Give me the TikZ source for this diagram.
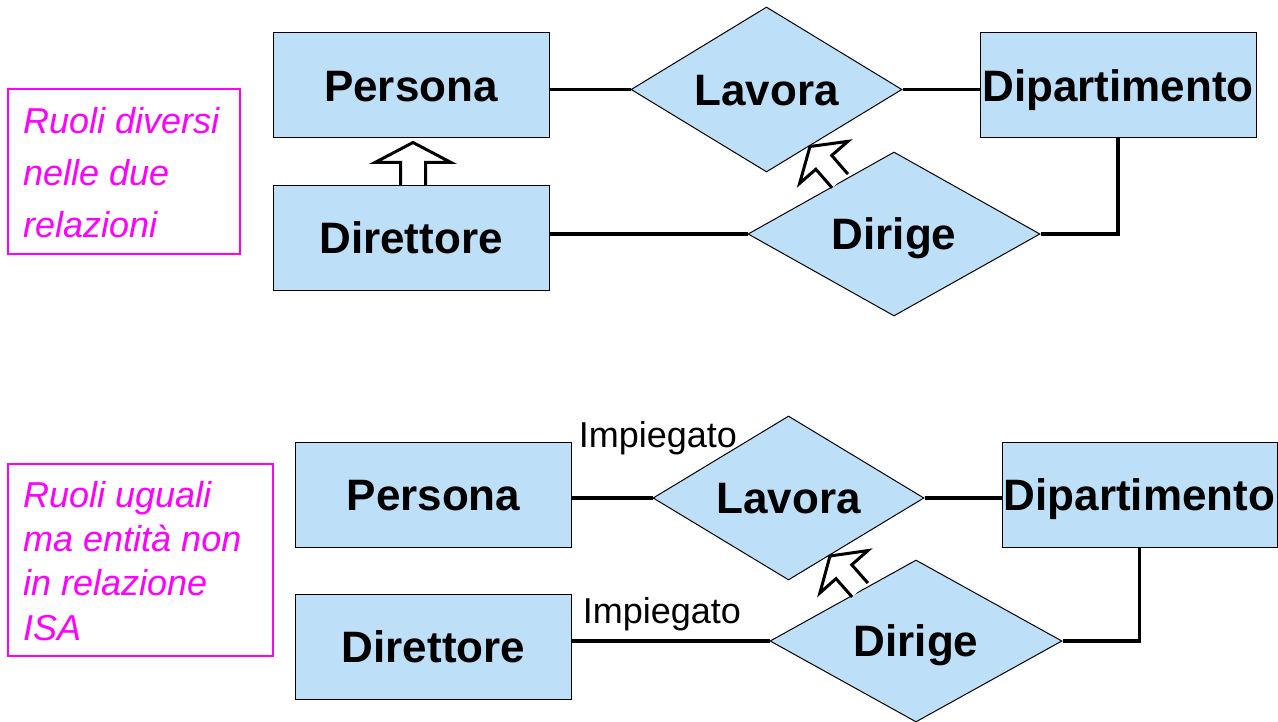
\documentclass[tikz,border=0pt]{standalone}
\usepackage{fontspec}
\setmainfont{Liberation Sans}
\usetikzlibrary{shapes.geometric,calc}
\definecolor{entfill}{RGB}{189,224,248}
\definecolor{notecol}{RGB}{255,0,255}
\begin{document}
\begin{tikzpicture}[x=1pt,y=-1pt,
  entity/.style={draw=black, line width=1pt, fill=entfill, minimum width=276pt, minimum height=105pt,
    inner sep=0pt, font=\fontsize{44}{44}\selectfont\bfseries, text height=31.7pt, text depth=0pt},
  relship/.style={diamond, draw=black, line width=1pt, fill=entfill, aspect=1.64, inner sep=0pt,
    font=\fontsize{44}{44}\selectfont\bfseries, text height=31.7pt, text depth=0pt},
  link/.style={line width=3.5pt},
  isa/.style={line width=3pt, fill=white, line join=miter},
  role/.style={font=\fontsize{36}{36}\selectfont, inner sep=0pt},
  notebox/.style={draw=notecol, line width=1.5pt, inner sep=0pt},
  notetext/.style={text=notecol, align=left, anchor=north west, inner sep=0pt}]
\useasboundingbox (0,0) rectangle (1278,722);

% ---------- top diagram ----------
\node[notebox, minimum width=232pt, minimum height=165pt] (N1) at (124,171.5) {};
\node[notetext, font=\fontsize{36}{52}\selectfont\itshape] (T1) at (23,107) {Ruoli diversi\\nelle due\\relazioni};

\node[entity] (P1) at (411,85.5) {Persona};
\node[entity] (D1) at (411,238) {Direttore};
\node[entity] (Dp1) at (1118,85.5) {Dipartimento};
\node[relship, minimum width=271pt, minimum height=165pt] (L1) at (766.5,89.5) {Lavora};
\node[relship, minimum width=292pt, minimum height=164pt] (G1) at (894,234) {Dirige};

\draw[link] (P1.east |- L1.west) -- (L1.west);
\draw[link] (L1.east) -- (L1.east -| Dp1.west);
\draw[link] (D1.east |- G1.west) -- (G1.west);
\draw[link] (G1.east) -| (Dp1.south);

% ISA Direttore -> Persona
\coordinate (a1s) at ($(D1.north)+(2,0)$);
\coordinate (a1t) at ($(P1.south)+(2,4)$);
\coordinate (a1h) at ($(a1t)!20pt!(a1s)$);
\draw[isa] ($(a1s)!12.5pt!90:(a1t)$) -- ($(a1h)!12.5pt!-90:(a1s)$) -- ($(a1h)!38pt!-90:(a1s)$) -- (a1t)
  -- ($(a1h)!38pt!90:(a1s)$) -- ($(a1h)!12.5pt!90:(a1s)$) -- ($(a1s)!12.5pt!-90:(a1t)$);

% ISA Dirige -> Lavora
\coordinate (a2s) at ($(G1.center)+(-54,-53)$);
\coordinate (a2t) at ($(L1.center)+(43.5,57)$);
\coordinate (a2h) at ($(a2t)!21pt!(a2s)$);
\draw[isa] ($(a2s)!10.5pt!90:(a2t)$) -- ($(a2h)!10.5pt!-90:(a2s)$) -- ($(a2h)!32pt!-90:(a2s)$) -- (a2t)
  -- ($(a2h)!32pt!90:(a2s)$) -- ($(a2h)!10.5pt!90:(a2s)$) -- ($(a2s)!10.5pt!-90:(a2t)$);

% ---------- bottom diagram ----------
\node[notebox, minimum width=265pt, minimum height=192pt] (N2) at (140.5,560) {};
\node[notetext, font=\fontsize{36}{44.3}\selectfont\itshape] (T2) at (23,481) {Ruoli uguali\\ma entità non\\in relazione\\ISA};

\node[entity] (P2) at (433.5,494.5) {Persona};
\node[entity] (D2) at (433.5,646.5) {Direttore};
\node[entity, minimum width=275pt] (Dp2) at (1139.5,494.5) {Dipartimento};
\node[relship, minimum width=271pt, minimum height=164pt] (L2) at (788.5,498) {Lavora};
\node[relship, minimum width=292pt, minimum height=162pt] (G2) at (916,641) {Dirige};

\draw[link] (P2.east |- L2.west) -- node[role, pos=0, anchor=base west, xshift=5pt, yshift=51pt] (R1) {Impiegato} (L2.west);
\draw[link] (L2.east) -- (L2.east -| Dp2.west);
\draw[link] (D2.east |- G2.west) -- node[role, pos=0, anchor=base west, xshift=9pt, yshift=18pt] (R2) {Impiegato} (G2.west);
\draw[link] (G2.east) -| (Dp2.south);

% ISA-like arrow Dirige -> Lavora
\coordinate (a3s) at ($(G2.center)+(-56,-51)$);
\coordinate (a3t) at ($(L2.center)+(41.5,58)$);
\coordinate (a3h) at ($(a3t)!21pt!(a3s)$);
\draw[isa] ($(a3s)!10.5pt!90:(a3t)$) -- ($(a3h)!10.5pt!-90:(a3s)$) -- ($(a3h)!32pt!-90:(a3s)$) -- (a3t)
  -- ($(a3h)!32pt!90:(a3s)$) -- ($(a3h)!10.5pt!90:(a3s)$) -- ($(a3s)!10.5pt!-90:(a3t)$);
\end{tikzpicture}
\end{document}
